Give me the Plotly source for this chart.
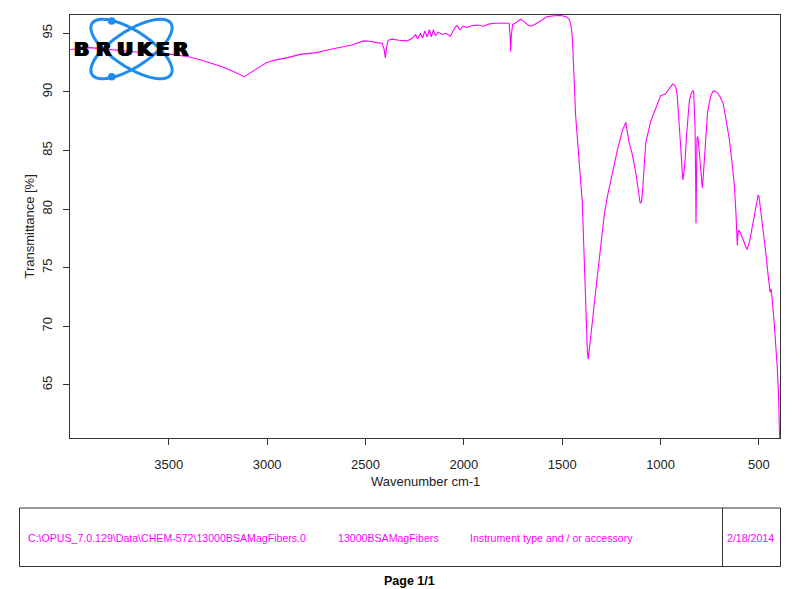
import numpy as np
import plotly.graph_objects as go

# ---------------- data ----------------
wavenumber = [
    4000, 3950, 3900, 3800, 3700, 3600, 3480, 3400, 3340, 3240, 3180, 3116, 3060, 3002,
    2950, 2900, 2832, 2790, 2747, 2700, 2628, 2570, 2510, 2470, 2442, 2415, 2405, 2399,
    2393, 2385, 2365, 2330, 2289, 2260, 2245, 2235, 2221, 2210, 2198, 2187, 2175, 2165,
    2155, 2145, 2130, 2110, 2090, 2068, 2055, 2045, 2034, 2020, 2005, 1983, 1960, 1930,
    1900, 1870, 1840, 1814, 1785, 1770, 1765, 1762, 1758, 1752, 1740, 1712, 1690, 1675,
    1660, 1640, 1610, 1576, 1540, 1508, 1490, 1474, 1462, 1455, 1448, 1443, 1438, 1432,
    1424, 1415, 1406, 1398, 1392, 1386, 1381, 1377, 1372, 1368, 1362, 1356, 1346, 1338,
    1321, 1304, 1287, 1270, 1245, 1219, 1194, 1177, 1168, 1160, 1143, 1126, 1112, 1104,
    1098, 1092, 1084, 1075, 1050, 1024, 999, 977, 964, 950, 939, 930, 922, 916,
    910, 903, 897, 891, 887, 882, 875, 868, 862, 854, 846, 836, 832, 828,
    825, 822, 820, 818, 815, 812, 809, 803, 798, 792, 788, 783, 778, 770,
    761, 752, 744, 735, 727, 718, 710, 695, 682, 668, 651, 639, 625, 617,
    612, 610, 607, 603, 595, 587, 578, 568, 561, 554, 547, 537, 526, 518,
    511, 504, 500, 493, 488, 484, 476, 469, 462, 455, 448, 443, 440, 438,
    435, 430, 422, 413, 407, 401, 397, 395,
]
transmittance = [
    93.6, 93.75, 93.78, 93.6, 93.45, 93.3, 93.2, 93.0, 92.75, 92.2, 91.8, 91.3, 91.9, 92.5,
    92.75, 92.9, 93.2, 93.3, 93.35, 93.55, 93.8, 94.0, 94.35, 94.3, 94.2, 94.15, 93.6, 92.9,
    93.8, 94.4, 94.5, 94.4, 94.35, 94.6, 94.9, 94.5, 95.0, 94.6, 95.2, 94.7, 95.3, 94.7,
    95.3, 94.8, 95.1, 94.9, 95.0, 94.75, 95.2, 95.5, 95.65, 95.3, 95.6, 95.5, 95.65, 95.7,
    95.6, 95.8, 95.85, 95.85, 95.9, 95.85, 94.8, 93.45, 94.9, 95.75, 95.85, 96.2, 95.95, 95.7,
    95.6, 95.75, 96.05, 96.42, 96.5, 96.52, 96.45, 96.37, 96.1, 95.6, 94.5, 93.0, 90.5, 88.0,
    86.0, 84.3, 82.3, 80.6, 77.5, 74.6, 71.5, 69.5, 67.8, 67.2, 68.0, 69.2, 70.5, 71.8,
    74.3, 76.9, 79.4, 81.1, 83.1, 85.1, 86.7, 87.4, 86.5, 85.7, 84.6, 83.1, 81.5, 80.5,
    80.6, 81.4, 83.5, 85.7, 87.5, 88.7, 89.7, 89.8, 90.1, 90.4, 90.65, 90.6, 90.35, 89.8,
    88.5, 86.8, 85.1, 83.5, 82.5, 83.0, 84.3, 86.3, 88.0, 89.2, 89.8, 90.1, 90.05, 88.6,
    87.1, 83.0, 78.8, 81.5, 86.0, 86.2, 86.0, 84.8, 83.4, 82.3, 81.8, 82.8, 84.3, 86.5,
    88.3, 89.1, 89.7, 90.0, 90.1, 90.0, 89.9, 89.5, 89.0, 87.7, 86.0, 84.3, 82.0, 79.7,
    77.5, 76.9, 77.8, 78.2, 78.0, 77.7, 77.3, 76.8, 76.55, 76.9, 77.3, 78.2, 79.2, 80.0,
    80.9, 81.2, 81.1, 80.3, 79.6, 78.9, 77.8, 76.9, 75.8, 74.6, 73.6, 72.9, 73.0, 73.2,
    72.3, 71.8, 70.2, 68.4, 66.5, 64.4, 61.8, 60.5,
]
x_ticks = [3500, 3000, 2500, 2000, 1500, 1000, 500]
y_ticks = [65, 70, 75, 80, 85, 90, 95]
x_title = "Wavenumber cm-1"
y_title = "Transmittance [%]"
footer_texts = ["C:\\OPUS_7.0.129\\Data\\CHEM-572\\13000BSAMagFibers.0",
                "13000BSAMagFibers",
                "Instrument type and / or accessory",
                "2/18/2014"]
page_text = "Page 1/1"
logo_letters = ["B", "R", "U", "K", "E", "R"]

# ---------------- layout geometry ----------------
W, H = 800, 589
ML, MR, MT, MB = 70, 20, 15, 151
PX0, PX1 = ML, W - MR
PY0, PY1 = MT, H - MB


def fx(px):
    return (px - PX0) / (PX1 - PX0)


def fy(py):
    return (PY1 - py) / (PY1 - PY0)


AX = "#333333"
FONT = "Arial, Liberation Sans, sans-serif"
MAG = "#ff00ff"
BLUE = "#1e8cf0"

fig = go.Figure()
fig.add_trace(go.Scatter(
    x=wavenumber, y=transmittance, mode="lines",
    line=dict(color=MAG, width=1.1), hoverinfo="skip", showlegend=False,
))

shapes = []
annotations = []

# ---- Bruker logo (decoration) ----
cx, cy, a, b = 131.5, 49.0, 47.0, 18.0
t = np.linspace(0, 2 * np.pi, 121)
for ang_deg in (33, -33):
    th = np.deg2rad(ang_deg)
    xs = cx + a * np.cos(t) * np.cos(th) - b * np.sin(t) * np.sin(th)
    ys = cy + a * np.cos(t) * np.sin(th) + b * np.sin(t) * np.cos(th)
    path = "M " + " L ".join(f"{fx(x):.5f},{fy(y):.5f}" for x, y in zip(xs, ys)) + " Z"
    shapes.append(dict(type="path", path=path, xref="paper", yref="paper",
                       line=dict(color=BLUE, width=3), layer="above"))
for dx, dy in ((111.7, 21.0), (111.7, 76.7)):
    r = 3.8
    shapes.append(dict(type="circle", xref="paper", yref="paper",
                       x0=fx(dx - r), x1=fx(dx + r), y0=fy(dy + r), y1=fy(dy - r),
                       fillcolor=BLUE, line=dict(color=BLUE, width=0), layer="above"))
letter_x = [81.7, 103.3, 125.0, 145.8, 163.3, 180.5]
for ch, lx in zip(logo_letters, letter_x):
    annotations.append(dict(text=f"<b>{ch}</b>", x=fx(lx), y=fy(49.3), xref="paper", yref="paper",
                            xanchor="center", yanchor="middle", showarrow=False,
                            font=dict(family="DejaVu Sans", size=20, color="black",
                                      shadow="1px 0px 0px #000, -1px 0px 0px #000")))

# ---- axis titles ----
annotations.append(dict(text=x_title, x=fx(425.5), y=fy(482), xref="paper", yref="paper",
                        xanchor="center", yanchor="middle", showarrow=False,
                        font=dict(family=FONT, size=13, color="#222")))
annotations.append(dict(text=y_title, x=fx(28.5), y=fy(227), xref="paper", yref="paper",
                        xanchor="center", yanchor="middle", showarrow=False, textangle=-90,
                        font=dict(family=FONT, size=13, color="#222")))

# ---- footer box ----
shapes.append(dict(type="rect", xref="paper", yref="paper",
                   x0=fx(19.5), x1=fx(780.5), y0=fy(566.5), y1=fy(508),
                   line=dict(color=AX, width=1)))
shapes.append(dict(type="line", xref="paper", yref="paper",
                   x0=fx(722.5), x1=fx(722.5), y0=fy(566.5), y1=fy(508),
                   line=dict(color=AX, width=1)))
for txt, tx in zip(footer_texts, [26.0, 336.0, 468.0, 725.3]):
    annotations.append(dict(text=txt, x=fx(tx), y=fy(538), xref="paper", yref="paper",
                            xanchor="left", yanchor="middle", showarrow=False,
                            font=dict(family=FONT, size=10.6, color=MAG)))
annotations.append(dict(text=f"<b>{page_text}</b>", x=fx(409.5), y=fy(581), xref="paper", yref="paper",
                        xanchor="center", yanchor="middle", showarrow=False,
                        font=dict(family=FONT, size=12.5, color="black")))

fig.update_layout(
    width=W, height=H,
    margin=dict(l=ML, r=MR, t=MT, b=MB, pad=0),
    paper_bgcolor="white", plot_bgcolor="white",
    showlegend=False,
    shapes=shapes, annotations=annotations,
    xaxis=dict(range=[4002, 393], tickvals=x_ticks, ticktext=[str(v) for v in x_ticks],
               showgrid=False, zeroline=False, showline=True, mirror=True,
               linecolor=AX, linewidth=1, ticks="outside", ticklen=6, tickcolor=AX,
               tickfont=dict(family=FONT, size=13, color="#222"), ticklabelstandoff=8),
    yaxis=dict(range=[60.47, 96.56], tickvals=y_ticks, ticktext=[str(v) for v in y_ticks],
               showgrid=False, zeroline=False, showline=True, mirror=True,
               linecolor=AX, linewidth=1, ticks="outside", ticklen=6, tickcolor=AX,
               tickangle=-90,
               tickfont=dict(family=FONT, size=13, color="#222"), ticklabelstandoff=6),
)

fig.write_html("out.html", config={"displayModeBar": False},
               post_script="document.body.style.margin='0px';document.body.style.overflow='hidden';")
